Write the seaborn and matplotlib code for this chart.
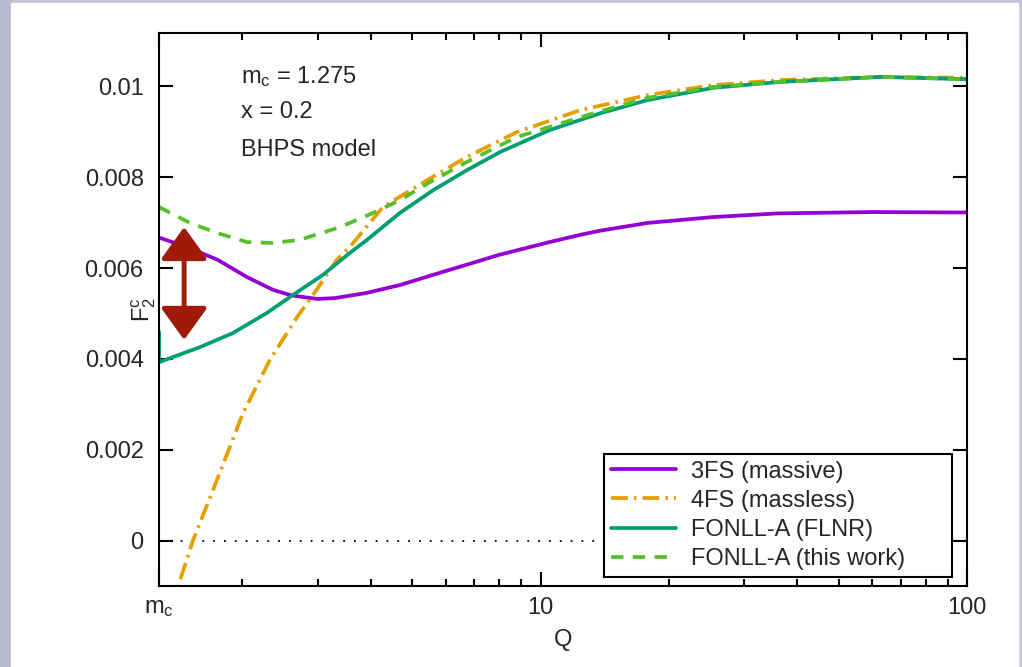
import seaborn as sns
import matplotlib.pyplot as plt
from matplotlib.patches import Rectangle

# Valeurs (Q en GeV, F2 charm)
q_3fs = [1.275, 1.5, 1.75, 2.05, 2.36, 2.6, 3.0, 3.3, 3.9, 4.7, 5.6, 6.7, 8.0,
         10.5, 12.4, 13.8, 17.8, 25.4, 36.0, 60.0, 100.0]
f_3fs = [0.00667, 0.00644, 0.00618, 0.00580, 0.00552, 0.00540, 0.00532, 0.00534,
         0.00545, 0.00563, 0.00585, 0.00607, 0.00629, 0.00657, 0.00673, 0.00682,
         0.00699, 0.00712, 0.00720, 0.00723, 0.00722]

q_4fs = [1.36, 1.413, 1.53, 1.707, 2.006, 2.32, 2.686, 2.93, 3.33, 3.57, 4.27,
         5.42, 6.72, 8.81, 12.4, 17.8, 25.4, 36.4, 62.5, 100.0]
f_4fs = [-0.0015, -0.001, 0.0, 0.00112, 0.00281, 0.00398, 0.00492, 0.00541,
         0.00618, 0.00646, 0.00734, 0.00793, 0.00844, 0.00899, 0.00947, 0.00980,
         0.01002, 0.01013, 0.01020, 0.01018]

q_flnr = [1.275, 1.275, 1.59, 1.9, 2.28, 2.63, 3.09, 3.57, 3.92, 4.68, 5.6, 6.72,
          8.04, 10.5, 13.8, 17.8, 25.4, 36.4, 62.5, 100.0]
f_flnr = [0.00460, 0.00393, 0.00426, 0.00457, 0.00501, 0.00541, 0.00585, 0.00633,
          0.00662, 0.00721, 0.00771, 0.00815, 0.00855, 0.00903, 0.00940, 0.00969,
          0.00996, 0.01009, 0.01020, 0.01015]

q_work = [1.275, 1.507, 1.744, 2.05, 2.36, 2.73, 3.39, 4.05, 4.68, 5.51, 6.72,
          8.81, 13.3, 17.8, 25.4, 36.4, 62.5, 100.0]
f_work = [0.00734, 0.00699, 0.00677, 0.00657, 0.00655, 0.00662, 0.00690, 0.00721,
          0.00749, 0.00789, 0.00833, 0.00888, 0.00940, 0.00974, 0.00998, 0.01009,
          0.01020, 0.01015]

labels = ['3FS (massive)', '4FS (massless)', 'FONLL-A (FLNR)', 'FONLL-A (this work)']
y_ticks = [0, 0.002, 0.004, 0.006, 0.008, 0.01]
y_tick_labels = ['0', '0.002', '0.004', '0.006', '0.008', '0.01']
x_ticks = [1.275, 10, 100]
x_tick_labels = [r'$\mathrm{m_c}$', '10', '100']

sns.set_style('ticks')
plt.rcParams['font.family'] = ['Liberation Sans', 'DejaVu Sans']
plt.rcParams['mathtext.fontset'] = 'custom'
plt.rcParams['mathtext.rm'] = 'Liberation Sans'
plt.rcParams['mathtext.it'] = 'Liberation Sans:italic'

fs = 17
fig = plt.figure(figsize=(10.22, 6.67), dpi=100, facecolor='#c6c6da')
fig.patches.append(Rectangle((0, 0), 11 / 1022, 1, transform=fig.transFigure,
                             color='#b9b9cf', zorder=-2))
fig.patches.append(Rectangle((11 / 1022, 0), 1007 / 1022, 664 / 667,
                             transform=fig.transFigure, color='white', zorder=-1))
ax = fig.add_axes([0.1556, 0.1214, 0.7906, 0.8291])

lw = 2.7
common = dict(ax=ax, lw=lw, sort=False, estimator=None)
sns.lineplot(x=q_3fs, y=f_3fs, color='#9400d3', label=labels[0], **common)
sns.lineplot(x=q_4fs, y=f_4fs, color='#e69f00', label=labels[1],
             linestyle=(0, (4.5, 1.6, 0.7, 1.6)), **common)
sns.lineplot(x=q_flnr, y=f_flnr, color='#009e73', label=labels[2], **common)
sns.lineplot(x=q_work, y=f_work, color='#56c02c', label=labels[3],
             linestyle=(0, (3.3, 2.5)), **common)

ax.axhline(0, color='black', ls=(0, (1, 5)), lw=1.3, zorder=1)

# double fleche rouge
ax.annotate('', xy=(1.46, 0.00442), xytext=(1.46, 0.0069),
            arrowprops=dict(arrowstyle='<|-|>, head_length=0.9, head_width=0.65',
                            color='#a01a0a', lw=3.5, mutation_scale=22,
                            shrinkA=0, shrinkB=0))

ax.set_xscale('log')
ax.set_xlim(1.275, 100)
ax.set_ylim(-0.00099, 0.011165)
ax.set_xticks(x_ticks)
ax.set_xticklabels(x_tick_labels)
ax.set_yticks(y_ticks)
ax.set_yticklabels(y_tick_labels)
ax.minorticks_on()
ax.yaxis.set_minor_locator(plt.NullLocator())
ax.tick_params(which='both', direction='in', top=True, right=True, color='black',
               labelsize=fs, width=1.5)
ax.tick_params(axis='y', which='major', length=10, pad=11)
ax.tick_params(axis='x', which='major', length=10, pad=8)
ax.tick_params(axis='x', which='minor', length=5)
for s in ax.spines.values():
    s.set_color('black')
    s.set_linewidth(1.5)
ax.set_xlabel('')
ax.set_ylabel('')
ax.text(-0.019, 0.5, r'$\mathrm{F_2^c}$', transform=ax.transAxes, rotation=90,
        ha='center', va='center', fontsize=fs)
ax.text(0.5, -0.098, 'Q', transform=ax.transAxes, ha='center', va='center', fontsize=fs)

ax.text(0.1015, 0.922, r'$\mathrm{m_c}$ = 1.275', transform=ax.transAxes,
        ha='left', va='center', fontsize=fs)
ax.text(0.1015, 0.857, 'x = 0.2', transform=ax.transAxes, ha='left', va='center', fontsize=fs)
ax.text(0.1015, 0.788, 'BHPS model', transform=ax.transAxes, ha='left', va='center', fontsize=fs)

leg = ax.legend(loc='lower left', bbox_to_anchor=(0.5507, 0.0163, 0.4307, 0.226),
                mode='expand', fontsize=fs, frameon=True, fancybox=False,
                framealpha=1, edgecolor='black', borderpad=0.3, labelspacing=0.3,
                handlelength=2.75, handletextpad=0.65, borderaxespad=0)
leg.get_frame().set_linewidth(1.5)

plt.savefig('out.png', dpi=100, facecolor=fig.get_facecolor())
